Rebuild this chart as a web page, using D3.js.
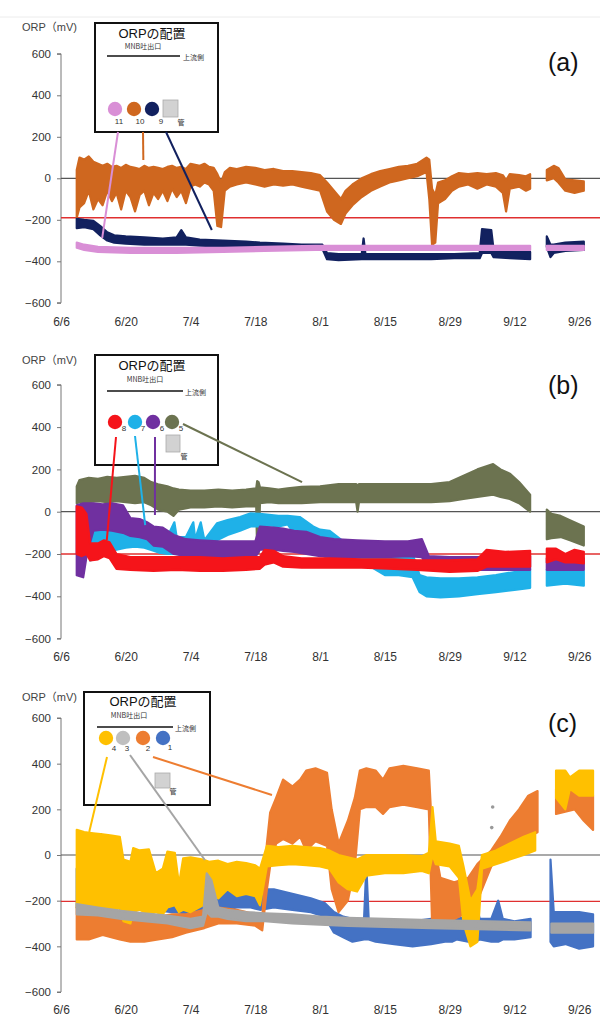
<!DOCTYPE html>
<html><head><meta charset="utf-8">
<script src="https://cdn.jsdelivr.net/npm/d3@7"></script>
<style>body{margin:0;background:#fff}svg{display:block}</style></head>
<body>
<svg id="chart" width="600" height="1018"></svg>
<script>
// ---------- shared axis data ----------
const xTickDays = [0,14,28,42,56,70,84,98,112];
const xLabels = ["6/6","6/20","7/4","7/18","8/1","8/15","8/29","9/12","9/26"];
const yTicks = [-600,-400,-200,0,200,400,600];

// ---------- panel (a) series: [day since 6/6, low, high] ----------
const a10 = [[3.4,-190,40],[4,-140,100],[5,-120,90],[6,-60,105],[7,-150,80],[8,-100,70],[9,-130,60],[10,-60,70],[11,-110,55],[12,-70,60],[13,-150,50],[14,-60,65],[15,-90,55],[16,-160,50],[17,-80,45],[18,-60,60],[19,-130,50],[20,-70,55],[21,-100,50],[22,-60,45],[23,-110,55],[24,-50,60],[25,-90,50],[26,-60,55],[27,-120,45],[28,-40,70],[29,-30,65],[30,-40,60],[31,-20,70],[32,-30,55],[33,-60,50],[33.8,-230,20],[34.6,-235,-20],[35.4,-60,30],[36.5,-40,50],[38,-30,45],[40,-20,55],[42,-30,50],[44,-40,40],[46,-30,45],[48,-35,35],[50,-30,35],[52,-40,30],[54,-50,25],[56,-60,15],[57.5,-160,-20],[59,-200,-60],[60.5,-220,-100],[61.5,-170,-60],[63,-130,-30],[65,-90,0],[67,-60,20],[69,-40,35],[71,-20,45],[73,-10,55],[75,0,60],[77,10,70],[79,30,100],[79.6,-100,90],[80.2,-320,-50],[80.9,-310,-80],[81.5,-120,-20],[83,-100,-10],[84.5,-60,10],[86,-40,25],[88,-30,20],[90,-50,25],[92,-30,20],[94,-40,25],[95.5,-70,15],[96.2,-160,-10],[97,-50,20],[99,-40,15],[100.5,-60,10],[101.4,-50,20],null,[105,-10,40],[106.5,0,60],[107.5,-20,50],[109,-60,-5],[111,-70,-10],[113,-60,-15]];
const a9 = [[3.4,-240,-195],[5,-235,-200],[7,-245,-205],[8.5,-275,-230],[10,-300,-260],[11.5,-310,-275],[14,-315,-280],[18,-320,-285],[22,-320,-290],[25,-320,-285],[26,-320,-250],[27,-320,-285],[30,-325,-295],[35,-330,-300],[40,-330,-305],[43,-335,-310],[48,-335,-315],[52,-340,-320],[56.5,-340,-320],[57.5,-390,-360],[60,-395,-365],[65,-390,-365],[65.4,-390,-290],[65.8,-390,-365],[70,-390,-365],[75,-390,-365],[80,-390,-365],[85,-385,-365],[90.5,-385,-360],[91,-360,-245],[93,-360,-250],[93.5,-380,-345],[97,-385,-350],[101.4,-390,-355],null,[105,-330,-280],[105.8,-380,-320],[106.5,-360,-320],[109,-350,-310],[113,-345,-305]];
const a11 = [[3.4,-335,-310],[5,-345,-320],[8,-355,-330],[15,-360,-335],[25,-360,-335],[35,-355,-335],[44,-350,-330],[55,-345,-325],[70,-345,-325],[85,-345,-325],[101.4,-345,-325],null,[105,-345,-325],[113,-345,-325]];

// ---------- panel (b) series ----------
const b5 = [[3.4,40,120],[4,45,150],[6,45,160],[8,50,155],[10,45,165],[12,50,160],[14,45,165],[16,40,170],[18,45,160],[19.5,30,140],[21,10,130],[23,0,120],[24.3,-20,110],[25.5,10,105],[28,20,100],[31,20,100],[34,25,105],[37,20,100],[40,25,105],[42.2,25,110],[42.4,-195,145],[42.7,-195,140],[43,40,115],[45,45,110],[47,40,105],[49,40,110],[52,40,118],[56,45,120],[60,45,130],[63.8,45,130],[64.1,0,125],[64.4,45,130],[70,45,130],[76,45,130],[80,45,130],[84,50,140],[87,60,170],[90,70,200],[93.4,80,225],[95,70,200],[97,60,180],[99,40,140],[101.4,0,80],null,[105,-130,10],[106,-125,-10],[108,-120,-20],[110,-135,-40],[113,-160,-70]];
const b7 = [[6.3,-230,-70],[8,-220,-60],[10,-190,-50],[12,-180,-60],[14,-170,-70],[16,-165,-70],[18,-170,-80],[20,-185,-90],[21.4,-195,-115],[23,-200,-120],[24.5,-200,-50],[25,-200,-120],[27,-200,-120],[28.6,-200,-50],[29,-200,-130],[30.2,-200,-50],[31,-200,-135],[33.7,-135,-55],[36,-110,-40],[38.7,-90,-25],[41,-70,-8],[43,-70,-10],[45,-65,-15],[47,-70,-20],[49,-60,-20],[51.6,-140,-25],[54.5,-150,-70],[56,-200,-85],[58,-225,-90],[61,-240,-140],[64,-255,-150],[67,-260,-150],[70,-300,-190],[73,-300,-200],[76,-310,-200],[77.5,-380,-300],[79,-400,-310],[82,-405,-315],[86,-400,-315],[90,-390,-310],[94,-380,-300],[98,-370,-285],[101.4,-360,-275],null,[105,-350,-275],[109,-340,-280],[113,-350,-280]];
const b6 = [[3.4,-300,30],[4.8,-310,40],[5.6,-200,40],[7,-90,40],[9,-85,35],[11,-90,40],[13.4,-100,30],[15,-115,-30],[17,-120,-35],[18.6,-130,-50],[20,-160,-70],[22,-165,-75],[24.4,-200,-110],[27,-210,-130],[30,-215,-135],[34,-215,-140],[38,-215,-140],[42,-215,-140],[43,-180,-70],[46,-180,-75],[48,-185,-80],[50.4,-190,-90],[53,-200,-95],[56,-210,-120],[59,-215,-130],[64,-215,-135],[70,-215,-140],[75,-210,-140],[78,-215,-130],[79.5,-270,-210],[84,-275,-215],[90,-275,-215],[95,-275,-210],[101.4,-275,-210],null,[105,-275,-220],[113,-275,-220]];
const b8 = [[3.4,-200,25],[4.5,-210,20],[5.5,-200,-10],[6.3,-230,-150],[8,-225,-150],[9.3,-210,-135],[10.5,-220,-145],[12,-270,-200],[15,-275,-215],[20,-280,-215],[25,-275,-215],[30,-280,-215],[35,-280,-220],[40,-275,-215],[43,-270,-215],[44,-250,-180],[46,-240,-185],[48,-260,-210],[52,-265,-220],[58,-265,-220],[65,-265,-225],[72,-270,-225],[77,-275,-230],[84,-285,-230],[90,-280,-225],[92,-260,-180],[96,-260,-190],[101.4,-260,-185],null,[105,-240,-175],[107,-225,-175],[109,-240,-200],[111,-240,-180],[113,-245,-190]];

// ---------- panel (c) series ----------
const c1 = [[3.4,-230,-60],[6,-220,-80],[8.3,-220,-80],[8.7,-200,90],[9.1,-220,-80],[12,-230,-100],[13.3,-240,0],[14,-230,-130],[17,-240,-160],[20,-240,-160],[24,-250,-170],[27,-255,-200],[30,-250,-200],[33,-240,-150],[35.6,-240,-140],[38,-230,-150],[41,-230,-150],[43,-240,-150],[46,-230,-150],[50,-240,-170],[54,-250,-190],[57,-270,-210],[59,-340,-250],[61,-360,-270],[63,-380,-280],[65.5,-370,-280],[66,-370,-50],[66.5,-370,-280],[68,-380,-290],[72,-390,-300],[76,-400,-290],[80,-390,-280],[83,-380,-290],[84.5,-380,-190],[85.5,-370,-280],[88,-380,-270],[89.5,-380,-190],[90.5,-370,-280],[93,-380,-280],[94.5,-380,-200],[95.5,-370,-280],[98,-370,-290],[101.5,-360,-280],null,[105.8,-380,-20],[106.5,-400,-250],[109,-390,-250],[112,-410,-250],[115,-400,-260]];
const c2 = [[3.4,-370,-230],[6,-370,-250],[9,-350,-230],[12.7,-370,-260],[15,-380,-270],[18,-380,-280],[21,-370,-270],[24,-360,-260],[27,-340,-260],[31,-320,-240],[34,-300,-230],[38,-300,-240],[42,-310,-260],[43.5,-330,-280],[44.5,-150,50],[45.2,-50,185],[46.5,50,250],[48,70,330],[50,50,300],[51.7,80,330],[53,20,370],[55,60,380],[57.5,40,360],[58.5,-150,200],[60,-250,50],[62,-200,150],[63.5,-50,250],[64.6,200,370],[66,210,380],[68,210,370],[69.6,180,330],[71,210,380],[74,220,390],[77,210,380],[79.5,200,370],[80.2,-290,100],[82,-290,-100],[85,-280,-120],[88,-250,-100],[90,-200,-40],[93,-50,20],[95,0,80],[97,30,150],[99,50,200],[101,80,260],[103,100,280],null,[107,180,290],[109,190,290],[111,200,290],[113,150,280],[115,110,260]];
const c4 = [[3.4,-230,110],[5,-250,100],[7,-240,95],[9,-260,90],[11,-250,85],[12.7,-230,80],[13.5,-290,-20],[15,-300,-30],[15.6,-250,30],[17,-240,20],[19,-260,25],[20.5,-250,-80],[22,-260,-60],[23,-230,15],[24.6,-220,10],[25.5,-250,-130],[26.4,-240,-15],[28,-250,-10],[30.7,-220,-20],[32,-170,-30],[34,-190,-25],[36,-150,-40],[38,-180,-30],[40,-170,-35],[42,-180,-45],[43,-220,-60],[44.5,-50,40],[47,-45,35],[50,-40,40],[53,-45,35],[56,-50,30],[58,-60,20],[60,-120,0],[62,-150,-10],[64,-160,-20],[66,-90,0],[70,-80,0],[74,-80,0],[78,-70,-5],[79.5,-80,10],[80.3,0,210],[81,-40,60],[84,-50,50],[86,-100,40],[87,-300,-50],[88.5,-400,-200],[90,-380,-150],[91,-60,0],[94,-40,20],[97,-20,50],[100,0,80],[102.5,20,100],null,[107,250,370],[109,200,370],[110,290,340],[112,260,370],[115,260,370]];
const c3 = [[3.4,-260,-215],[8,-265,-230],[13,-280,-245],[18,-290,-255],[23,-300,-265],[28,-320,-280],[30.7,-310,-270],[31.5,-250,-80],[32.5,-270,-110],[34,-270,-230],[36,-280,-240],[40,-290,-250],[44,-290,-255],[50,-300,-260],[56,-305,-270],[62,-310,-275],[70,-315,-280],[80,-320,-285],[90,-325,-290],[101.5,-330,-295],null,[106,-340,-300],[115,-340,-300]];
const c3dots = [[93.3,210],[93.1,120]];

// ---------- panels ----------
const panels = [
  {tag:"(a)", tagY:71, yTop:53.8, yBot:302.8, ref:-190, labY:327, unitY:31,
   series:[{d:a10,c:"#cf671f"},{d:a9,c:"#12215f"},{d:a11,c:"#d98fd6"}],
   box:[95,23,123,109], title:[152,38], sub:[143,49], line:[107,180,56], up:[183,60],
   circles:[{x:115,y:109,c:"#d98fd6",t:"11",tx:119,ty:124},{x:134,y:109,c:"#cf671f",t:"10",tx:140,ty:124},{x:152,y:109,c:"#12215f",t:"9",tx:161,ty:124}],
   sq:[163,100,15,17], kan:[181,125],
   leaders:[{c:"#d98fd6",s:[118,132],e:[8.9,-288]},{c:"#cf671f",s:[143,132],e:[17.8,88]},{c:"#12215f",s:[166,132],e:[32.6,-249]}]},
  {tag:"(b)", tagY:394, yTop:384.8, yBot:638.6, ref:-200, labY:662, unitY:364,
   series:[{d:b5,c:"#6c7350"},{d:b7,c:"#1fb1e8"},{d:b6,c:"#7030a0"},{d:b8,c:"#f5141a"}],
   box:[95,355,123,110], title:[152,370], sub:[145,382], line:[107,183,391], up:[185,395],
   circles:[{x:115,y:422,c:"#f5141a",t:"8",tx:124,ty:431},{x:135,y:422,c:"#1fb1e8",t:"7",tx:143,ty:431},{x:153,y:422,c:"#7030a0",t:"6",tx:162,ty:431},{x:172,y:422,c:"#6c7350",t:"5",tx:181,ty:431}],
   sq:[166,435,14,17], kan:[184,459],
   leaders:[{c:"#f5141a",s:[116,437],e:[9.9,-134]},{c:"#1fb1e8",s:[135,436],e:[18.2,-63]},{c:"#7030a0",s:[155,437],e:[20.3,-16]},{c:"#6c7350",s:[183,424],e:[52.1,140]}]},
  {tag:"(c)", tagY:732, yTop:718, yBot:992, ref:-203, labY:1015, unitY:701,
   series:[{d:c1,c:"#4472c4"},{d:c2,c:"#ed7d31"},{d:c4,c:"#ffc000"},{d:c3,c:"#a5a5a5"}],
   box:[84,692,126,113], title:[143,706], sub:[129,718], line:[97,173,727], up:[175,731],
   circles:[{x:106,y:738,c:"#ffc000",t:"4",tx:114,ty:751},{x:123,y:738,c:"#bfbfbf",t:"3",tx:127,ty:751},{x:143,y:738,c:"#ed7d31",t:"2",tx:148,ty:751},{x:163,y:738,c:"#4472c4",t:"1",tx:170,ty:750}],
   sq:[155,773,15,15], kan:[173,794],
   leaders:[{c:"#ffc000",s:[107,757],e:[6.1,101]},{c:"#a5a5a5",s:[130,755],e:[31.1,-22]},{c:"#ed7d31",s:[153,757],e:[45.6,263]}],
   dots:c3dots}
];

const svg = d3.select("#chart");
const FONT = "'Liberation Sans', Arial, 'Noto Sans CJK JP', sans-serif";
const JP = "'Noto Sans CJK JP', sans-serif";

svg.append("line").attr("x1",0).attr("x2",600).attr("y1",17).attr("y2",17).attr("stroke","#ececec").attr("stroke-width",1);

const x = d3.scaleLinear().domain([0,116.5]).range([61,600]);

panels.forEach(p => {
  const y = d3.scaleLinear().domain([-600,600]).range([p.yBot,p.yTop]);
  const g = svg.append("g");

  // y axis
  const ya = g.append("g").attr("transform",`translate(${x(0)},0)`)
    .call(d3.axisLeft(y).tickValues(yTicks).tickSize(4).tickPadding(6));
  ya.select(".domain").attr("stroke","#777").attr("d",`M-4,${y(600)}H0V${y(-600)}H-4`);
  ya.selectAll(".tick line").attr("stroke","#777");
  ya.selectAll("text").attr("font-family",FONT).attr("font-size",11.5).attr("fill","#333");

  // x labels
  const xa = g.append("g").attr("transform",`translate(0,${p.labY-10})`)
    .call(d3.axisBottom(x).tickValues(xTickDays).tickFormat((d,i)=>xLabels[i]).tickSize(0).tickPadding(0));
  xa.select(".domain").remove();
  xa.selectAll("text").attr("font-family",FONT).attr("font-size",12).attr("fill","#333");

  // unit label
  g.append("text").attr("x",22).attr("y",p.unitY).attr("font-family",FONT).attr("font-size",11).attr("fill","#444").text("ORP（mV)");

  // zero line & reference
  g.append("line").attr("x1",x(0)).attr("x2",600).attr("y1",y(0)).attr("y2",y(0)).attr("stroke","#555").attr("stroke-width",1.2);
  g.append("line").attr("x1",x(0)).attr("x2",600).attr("y1",y(p.ref)).attr("y2",y(p.ref)).attr("stroke","#e03030").attr("stroke-width",1.4);

  // series bands
  const area = d3.area().defined(d=>d!==null).x(d=>x(d[0])).y0(d=>y(d[1])).y1(d=>y(d[2]));
  p.series.forEach(s=>{
    g.append("path").attr("d",area(s.d)).attr("fill",s.c).attr("stroke",s.c).attr("stroke-width",2.2).attr("stroke-linejoin","round");
  });
  if (p.dots) g.selectAll(".dot").data(p.dots).enter().append("circle")
    .attr("cx",d=>x(d[0])).attr("cy",d=>y(d[1])).attr("r",1.8).attr("fill","#999");

  // legend box
  const [bx,by,bw,bh] = p.box;
  g.append("rect").attr("x",bx).attr("y",by).attr("width",bw).attr("height",bh).attr("fill","#fff").attr("stroke","#111").attr("stroke-width",2);
  g.append("text").attr("x",p.title[0]).attr("y",p.title[1]).attr("text-anchor","middle").attr("font-family",FONT).attr("font-size",13).attr("fill","#111").text("ORPの配置");
  g.append("text").attr("x",p.sub[0]).attr("y",p.sub[1]).attr("text-anchor","middle").attr("font-family",JP).attr("font-size",7).attr("fill","#333").text("MNB吐出口");
  g.append("line").attr("x1",p.line[0]).attr("x2",p.line[1]).attr("y1",p.line[2]).attr("y2",p.line[2]).attr("stroke","#111").attr("stroke-width",1.3);
  g.append("text").attr("x",p.up[0]).attr("y",p.up[1]).attr("font-family",JP).attr("font-size",7).attr("fill","#333").text("上流側");
  p.circles.forEach(c=>{
    g.append("circle").attr("cx",c.x).attr("cy",c.y).attr("r",7.2).attr("fill",c.c);
    g.append("text").attr("x",c.tx).attr("y",c.ty).attr("text-anchor","middle").attr("font-family",FONT).attr("font-size",8).attr("fill","#333").text(c.t);
  });
  g.append("rect").attr("x",p.sq[0]).attr("y",p.sq[1]).attr("width",p.sq[2]).attr("height",p.sq[3]).attr("fill","#d2d2d2").attr("stroke","#aaa").attr("stroke-width",0.8);
  g.append("text").attr("x",p.kan[0]).attr("y",p.kan[1]).attr("text-anchor","middle").attr("font-family",JP).attr("font-size",7).attr("fill","#333").text("管");

  // leader lines
  p.leaders.forEach(l=>{
    g.append("line").attr("x1",l.s[0]).attr("y1",l.s[1]).attr("x2",x(l.e[0])).attr("y2",y(l.e[1]))
      .attr("stroke",l.c).attr("stroke-width",2);
  });

  // panel tag
  g.append("text").attr("x",548).attr("y",p.tagY).attr("font-family",FONT).attr("font-size",25).attr("fill","#111").text(p.tag);
});
</script>
</body></html>
